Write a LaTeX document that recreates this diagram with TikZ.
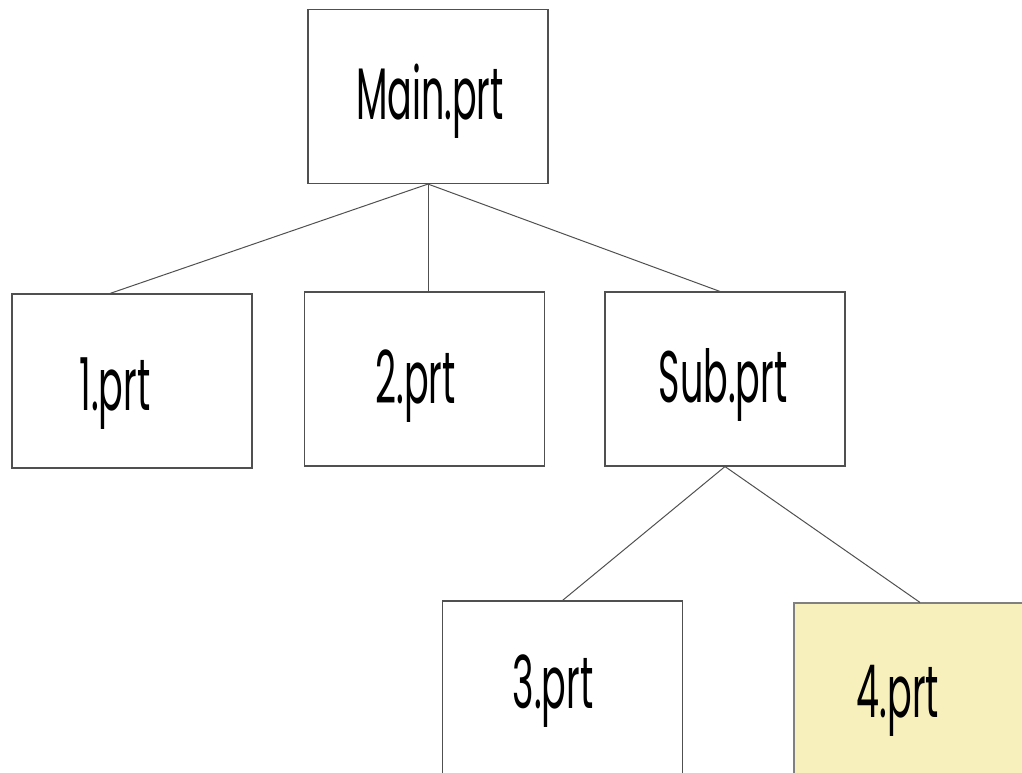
\documentclass[tikz,border=0pt]{standalone}
\usepackage{fontspec}
\newfontfamily\partfont[FakeStretch=0.5]{Poppins}
\usepackage{tikz}
\usetikzlibrary{positioning}
\definecolor{partyellow}{HTML}{F8F0BC}
\definecolor{partline}{HTML}{505050}

\begin{document}
\begin{tikzpicture}[x=1pt, y=-1pt,
	part/.style={rectangle, draw=partline, line width=1.1pt, minimum width=240pt, minimum height=174pt, inner sep=0pt},
	lbl/.style={font=\partfont\fontsize{73}{73}\selectfont, anchor=base, inner sep=0pt},
	link/.style={draw=partline, line width=1pt}]
						\useasboundingbox (0,0) rectangle (1022,773);
						\clip (0,0) rectangle (1022,773);
						% part boxes
						\node[part] (main) at (428,96.5) {};
						\node[part] (p1) at (132,381) {};
						\node[part] (p2) at (424.5,379) {};
						\node[part] (sub) at (725,379) {};
						\node[part] (p3) at (562.5,688) {};
						\node[part, fill=partyellow, draw=gray] (p4) at (914,690) {};
						% names
						\node[lbl] (main-t) at (430,120) {Main.prt};
						\node[lbl] (p1-t) at (115,410) {1.prt};
						\node[lbl] (p2-t) at (415.5,403) {2.prt};
						\node[lbl] (sub-t) at (723,402) {Sub.prt};
						\node[lbl] (p3-t) at (553,708) {3.prt};
						\node[lbl] (p4-t) at (898,717) {4.prt};
						% links
						\draw[link] (main.south) -- ([xshift=-22pt]p1.north);
						\draw[link] (main.south) -- (main.south |- p2.north);
						\draw[link] (main.south) -- ([xshift=-5pt]sub.north);
						\draw[link] (sub.south) -- (p3.north);
						\draw[link] (sub.south) -- ([xshift=6pt]p4.north);
					\end{tikzpicture}
\end{document}
